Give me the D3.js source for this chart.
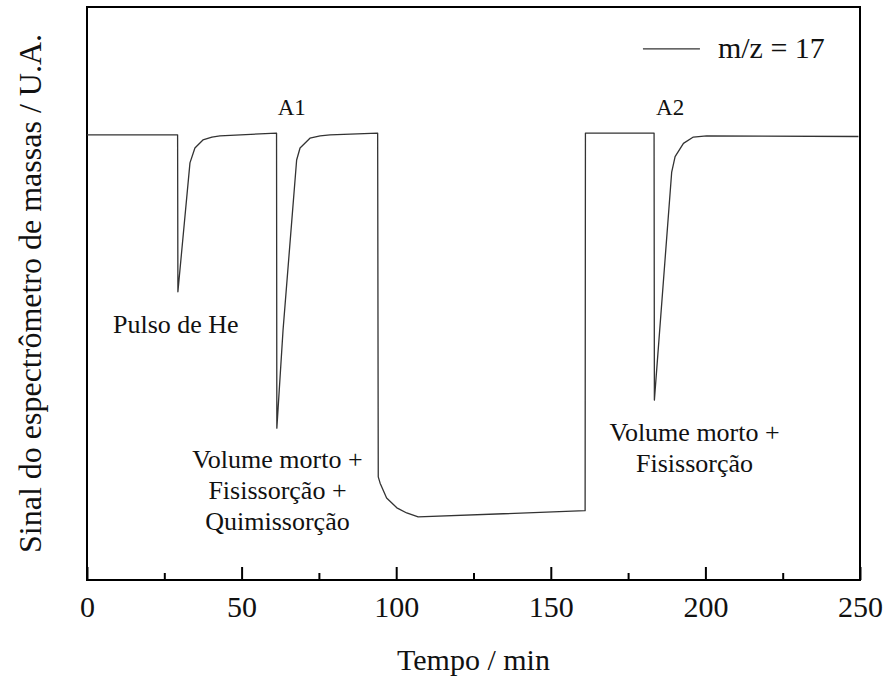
<!DOCTYPE html>
<html>
<head>
<meta charset="utf-8">
<script src="https://cdn.jsdelivr.net/npm/d3@7"></script>
</head>
<body style="margin:0">
<svg id="chart" width="888" height="678"></svg>
<script>
// m/z = 17 trace (time in min, signal in arbitrary units)
const tempo = [0, 29.3, 29.4, 33.3, 34.9, 37.5, 40.4, 43.0, 61.3,
  61.4, 63.4, 67.8, 68.9, 72.1, 75.4, 78.6, 94.0,
  94.2, 94.8, 96.9, 100.2, 103.4, 107.1, 161.1,
  161.2, 183.4, 183.5, 189.1, 190.2, 192.9, 196.1, 200.4, 249.5];
const sinal = [7.77, 7.77, 5.03, 7.28, 7.54, 7.68, 7.73, 7.75, 7.80,
  2.65, 4.36, 7.33, 7.54, 7.71, 7.75, 7.77, 7.80,
  1.80, 1.69, 1.43, 1.26, 1.17, 1.10, 1.21,
  7.80, 7.80, 3.14, 7.12, 7.39, 7.62, 7.73, 7.75, 7.74];

const xMajor = [0, 50, 100, 150, 200, 250];
const xMinor = [25, 75, 125, 175, 225];

// annotations: position (time, signal) and text lines
const notas = [
  { t: 8.4, v: 4.31, anchor: 'start', lines: ['Pulso de He'] },
  { t: 61.6, v: 1.96, anchor: 'middle', lines: ['Volume morto +', 'Fisissorção +', 'Quimissorção'] },
  { t: 196.5, v: 2.43, anchor: 'middle', lines: ['Volume morto +', 'Fisissorção'] },
];
const picos = [
  { t: 66.2, v: 8.12, label: 'A1' },
  { t: 188.6, v: 8.12, label: 'A2' },
];

const FONT = 'Liberation Serif';
const W = 888, H = 678;
const margin = { top: 7, right: 28, bottom: 98, left: 87 };
const innerW = W - margin.left - margin.right;
const innerH = H - margin.top - margin.bottom;

const x = d3.scaleLinear().domain([0, 250]).range([0, innerW]);
const y = d3.scaleLinear().domain([0, 10]).range([innerH, 0]);

const svg = d3.select('#chart');

const g = svg.append('g').attr('transform', `translate(${margin.left},${margin.top})`);

// x axis: major ticks with labels, inward
const xAxisG = g.append('g').attr('transform', `translate(0,${innerH})`)
  .call(d3.axisBottom(x).tickValues(xMajor).tickSize(-13).tickPadding(16).tickFormat(d3.format('d')))
  .attr('font-family', FONT).attr('font-size', 30);
xAxisG.select('.domain').remove();
xAxisG.selectAll('line').attr('stroke', '#000').attr('stroke-width', 2);
xAxisG.selectAll('text').attr('fill', '#111');

const xMinorG = g.append('g').attr('transform', `translate(0,${innerH})`)
  .call(d3.axisBottom(x).tickValues(xMinor).tickSize(-7).tickFormat(''));
xMinorG.select('.domain').remove();
xMinorG.selectAll('line').attr('stroke', '#000').attr('stroke-width', 2);

// frame
g.append('rect')
  .attr('x', 0).attr('y', 0)
  .attr('width', innerW).attr('height', innerH)
  .attr('fill', 'none').attr('stroke', '#000').attr('stroke-width', 2);

// trace
const pts = tempo.map((t, i) => [t, sinal[i]]);
g.append('path')
  .datum(pts)
  .attr('fill', 'none')
  .attr('stroke', '#333')
  .attr('stroke-width', 1.3)
  .attr('stroke-linejoin', 'round')
  .attr('d', d3.line().x(d => x(d[0])).y(d => y(d[1])));

// peak labels
picos.forEach(p => {
  g.append('text')
    .attr('x', x(p.t)).attr('y', y(p.v))
    .attr('text-anchor', 'middle')
    .attr('font-family', FONT).attr('font-size', 23).attr('fill', '#111')
    .text(p.label);
});

// annotations (one text element per line)
notas.forEach(n => {
  n.lines.forEach((l, i) => {
    g.append('text')
      .attr('x', x(n.t)).attr('y', y(n.v) + i * 31)
      .attr('text-anchor', n.anchor)
      .attr('font-family', FONT).attr('font-size', 26).attr('fill', '#111')
      .text(l);
  });
});

// legend
const lg = g.append('g').attr('transform', `translate(${x(179.8)},${y(9.27)})`);
lg.append('line').attr('x1', 0).attr('x2', 57).attr('y1', 0).attr('y2', 0)
  .attr('stroke', '#333').attr('stroke-width', 1.3);
lg.append('text').attr('x', 75).attr('y', 9)
  .attr('font-family', FONT).attr('font-size', 30).attr('fill', '#111').text('m/z = 17');

// axis titles
svg.append('text')
  .attr('x', margin.left + innerW / 2).attr('y', 670)
  .attr('text-anchor', 'middle')
  .attr('font-family', FONT).attr('font-size', 30).attr('fill', '#111')
  .text('Tempo / min');

svg.append('text')
  .attr('transform', `translate(41,${margin.top + innerH / 2}) rotate(-90)`)
  .attr('text-anchor', 'middle')
  .attr('font-family', FONT).attr('font-size', 32).attr('fill', '#111')
  .text('Sinal do espectrômetro de massas / U.A.');
</script>
</body>
</html>
